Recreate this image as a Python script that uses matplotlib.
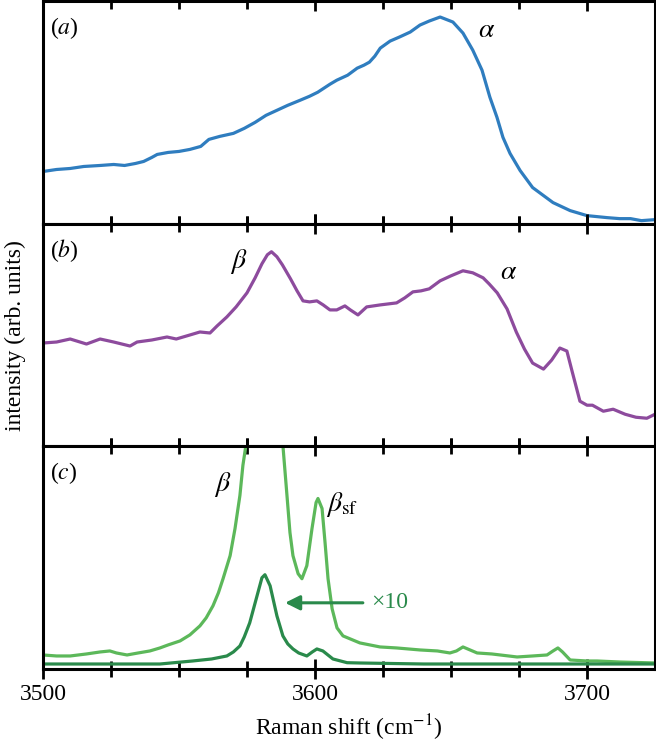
import numpy as np
import matplotlib
matplotlib.use("Agg")
import matplotlib.pyplot as plt

# ---- data (arb. intensity units) ----
# (a) blue spectrum
wn_a = [3500, 3505, 3510, 3515, 3521, 3526, 3530, 3534, 3537, 3540, 3542, 3546,
        3550, 3554, 3558, 3561, 3565, 3570, 3574, 3578, 3582, 3586, 3590, 3594.5,
        3598, 3601, 3605.5, 3608, 3612, 3615.5, 3618, 3620, 3622, 3624, 3627.6,
        3631, 3635, 3638.6, 3642, 3646, 3650.7, 3654.4, 3658, 3661.4, 3664.3,
        3666.9, 3669.1, 3671.7, 3675.4, 3680, 3687.5, 3693.8, 3700, 3707.4, 3712,
        3716, 3720, 3725]
int_a = [52, 54, 55, 57, 58, 59, 58, 60, 62, 66, 69, 71,
         72, 74, 77, 84, 87, 90, 95, 101, 108, 113, 118, 123,
         127, 131, 139, 143, 148, 155, 158, 161, 167, 175, 182,
         186, 191, 198, 202, 206, 201, 190, 173, 153, 126,
         106, 86, 70, 53, 36, 21, 13, 8, 6, 5,
         5, 3, 4]

# (b) purple spectrum
wn_b = [3500, 3505, 3510, 3516, 3521, 3526, 3532, 3534.6, 3540, 3545.6, 3549,
        3554, 3557.7, 3561.4, 3564, 3567.6, 3571, 3575, 3578, 3580.5, 3582.5,
        3584, 3586, 3588, 3591, 3593.4, 3595.6, 3598, 3600.7, 3603, 3605.5, 3608,
        3611, 3613, 3615.8, 3619, 3624, 3630, 3633, 3636, 3639, 3642, 3646, 3650,
        3654.4, 3658, 3661.8, 3664, 3667, 3670.6, 3674, 3677, 3680, 3684, 3687,
        3690, 3692.6, 3694.5, 3697.4, 3700, 3702, 3706, 3709.6, 3714, 3718, 3722,
        3725]
int_b = [103, 104, 107, 102, 107, 104, 100, 104, 106, 109, 107,
         111, 114, 113, 120, 129, 139, 153, 168, 182, 191,
         194, 189, 181, 167, 155, 145, 144, 145, 141, 136, 136,
         140, 136, 131, 139, 141, 143, 148, 154, 155, 157, 165, 170,
         175, 173, 168, 162, 153, 137, 114, 97, 83, 77, 86,
         98, 95, 75, 45, 41, 41, 35, 37, 32, 29, 28,
         32]

# (c) light green spectrum (runs off the top at the beta peak)
wn_c1 = [3500, 3505, 3510, 3516, 3521, 3524.6, 3527, 3530.9, 3535, 3539.3, 3543,
         3546, 3550.4, 3554, 3557.7, 3560, 3562.5, 3564.5, 3566.2, 3568.8, 3570.6,
         3572.4, 3573.5, 3574.6, 3576, 3578, 3581, 3584, 3586.5, 3588.2, 3589.7,
         3590.8, 3591.9, 3593.8, 3595.2, 3597, 3598.9, 3600.4, 3601.1, 3602.6,
         3603.7, 3604.8, 3606.3, 3608.1, 3610.3, 3616.5, 3623.9, 3630, 3638.6,
         3645, 3649.6, 3652, 3654.4, 3657, 3659.6, 3665, 3674.3, 3680, 3685.3,
         3687.5, 3689.3, 3691, 3693.8, 3700, 3703.7, 3712, 3725]
int_c1 = [14, 13, 13, 15, 17, 18, 16, 14, 16, 18, 21,
          24, 28, 34, 43, 51, 63, 76, 90, 113, 140,
          173, 203, 223, 260, 310, 340, 320, 270, 223, 173,
          136, 113, 95, 90, 103, 140, 166, 170, 160,
          126, 90, 60, 41, 33, 26, 22, 21, 19,
          18, 16, 18, 22, 19, 16, 15, 12, 13, 14,
          18, 21, 17, 9, 8, 8, 7, 6]

# (c) dark green spectrum
wn_c2 = [3500, 3520, 3543, 3555, 3562, 3567.6, 3570, 3572.4, 3574, 3576, 3578.7,
         3580.5, 3581.6, 3583.5, 3586, 3588.2, 3590, 3591.9, 3594, 3597, 3599,
         3600.7, 3602.9, 3606.6, 3611.8, 3616.5, 3640, 3700, 3725]
int_c2 = [5, 5, 5, 8, 10, 13, 17, 23, 32, 46, 73,
          91, 94, 83, 53, 33, 25, 20, 16, 13, 17,
          20, 18, 10, 6.3, 6, 5, 5, 5]

blue = "#2f7dbf"
purple = "#8d4b9d"
lgreen = "#5cb85a"
dgreen = "#2a8a4b"

plt.rcParams['font.family'] = ['Liberation Serif', 'DejaVu Serif']
plt.rcParams['mathtext.fontset'] = 'stix'
plt.rcParams['font.size'] = 17

fig, axs = plt.subplots(3, 1, figsize=(6.56, 7.47), dpi=100, sharex=True)
fig.subplots_adjust(left=0.0655, right=0.9985, bottom=0.1044, top=0.9987, hspace=0)

kw = dict(lw=2.3, solid_joinstyle='round', solid_capstyle='round')
axs[0].plot(wn_a, int_a, color=blue, **kw)
axs[1].plot(wn_b, int_b, color=purple, **kw)
axs[2].plot(wn_c1, int_c1, color=lgreen, **kw)
axs[2].plot(wn_c2, int_c2, color=dgreen, **kw)

for ax, lab in zip(axs, ['a', 'b', 'c']):
    ax.set_xlim(3500, 3725)
    ax.set_ylim(0, 222)
    ax.set_yticks([])
    ax.set_xticks([3500, 3600, 3700])
    ax.set_xticks(np.arange(3525, 3725, 25), minor=True)
    ax.tick_params(axis='x', which='major', direction='inout', length=14, width=2,
                   top=True, bottom=True, labelsize=17)
    ax.tick_params(axis='x', which='minor', direction='inout', length=11, width=2,
                   top=True, bottom=True)
    for s in ax.spines.values():
        s.set_linewidth(2.2)
    ax.text(0.012, 0.88, r'($%s$)' % lab, transform=ax.transAxes,
            ha='left', va='center', fontsize=17)

axs[0].text(3663, 193, r'$\alpha$', fontsize=20, ha='center', va='center')
axs[1].text(3572, 184, r'$\beta$', fontsize=20, ha='center', va='center')
axs[1].text(3671, 173, r'$\alpha$', fontsize=20, ha='center', va='center')
axs[2].text(3566, 184, r'$\beta$', fontsize=20, ha='center', va='center')
axs[2].text(3604, 164, r'$\beta_{\rm sf}$', fontsize=20, ha='left', va='center')

axs[2].annotate('', xy=(3589, 66), xytext=(3617.6, 66),
                arrowprops=dict(arrowstyle='-|>', color=dgreen, lw=2.2,
                                mutation_scale=22, shrinkA=0, shrinkB=0))
axs[2].text(3620.5, 66, '×10', color=dgreen, fontsize=17, ha='left', va='center')

axs[2].set_xlabel(r'Raman shift (cm$^{-1}$)', fontsize=17, labelpad=6)
fig.text(0.023, 0.551, 'intensity (arb. units)', rotation=90,
         ha='center', va='center', fontsize=17)

fig.savefig('out.png', dpi=100)
